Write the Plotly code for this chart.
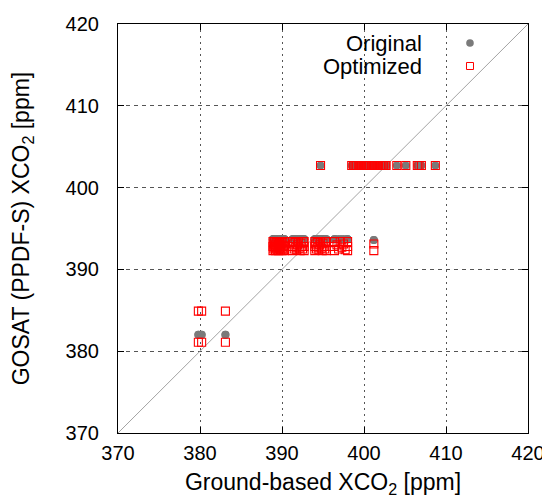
import plotly.graph_objects as go

# ---- data ----
# lower cluster
low_ground = [379.8, 379.8, 380.2, 380.2, 383.1, 383.1]
low_orig = [382.0, 382.0, 382.0, 382.0, 382.0, 382.0]
low_opt = [384.9, 381.1, 384.9, 381.1, 384.9, 381.1]

# middle cluster (four dense groups plus one isolated site)
mid_ground = [388.9, 388.9, 388.9, 389.0, 389.0, 389.1, 389.1, 389.2, 389.2, 389.3,
              389.3, 389.4, 389.4, 389.5, 389.5, 389.6, 389.6, 389.7, 389.7, 389.8,
              389.8, 389.9, 389.9, 390.0, 390.0, 390.1, 390.1, 390.2, 390.2, 390.3,
              390.3, 390.3,
              391.3, 391.3, 391.3, 391.4, 391.5, 391.6, 391.7, 391.8, 391.9, 392.0,
              392.1, 392.2, 392.3, 392.4, 392.5, 392.6, 392.7, 392.7, 392.7,
              394.0, 394.0, 394.0, 394.1, 394.2, 394.3, 394.4, 394.5, 394.6, 394.7,
              394.8, 394.9, 395.0, 395.1, 395.2, 395.3, 395.4, 395.4, 395.4,
              396.4, 396.4, 396.4, 396.7, 396.9, 397.1, 397.3, 397.5, 397.7, 398.0,
              398.0, 398.0,
              401.2, 401.2]
mid_orig = ([393.7] * 32 + [393.7] * 19 + [393.7] * 19 + [393.7] * 12
            + [393.6, 393.6])
mid_opt = [393.4, 392.8, 392.3, 393.1, 392.5, 393.4, 392.7, 393.0, 392.3, 393.3,
           392.6, 392.9, 392.4, 393.4, 392.7, 393.1, 392.3, 393.3, 392.6, 393.0,
           392.4, 393.4, 392.8, 393.1, 392.3, 393.3, 392.6, 392.9, 392.4, 393.4,
           392.8, 392.3,
           393.4, 392.8, 392.3, 393.1, 392.5, 393.3, 392.7, 392.4, 393.0, 393.4,
           392.6, 392.3, 393.2, 392.8, 392.5, 393.4, 393.4, 392.8, 392.3,
           393.4, 392.8, 392.3, 393.1, 392.5, 393.3, 392.7, 392.4, 393.0, 393.4,
           392.6, 392.3, 393.2, 392.8, 392.5, 393.4, 393.4, 392.8, 392.3,
           393.4, 392.8, 392.3, 393.0, 392.5, 393.4, 392.7, 393.1, 392.4, 393.4,
           392.8, 392.3,
           393.1, 392.3]

# upper cluster
up_ground = [394.7, 398.5, 398.7, 398.8, 399.0, 399.1, 399.3, 399.4, 399.6, 399.7,
             399.9, 400.0, 400.2, 400.3, 400.4, 400.6, 400.7, 400.9, 401.0, 401.2,
             401.3, 401.5, 401.7, 401.8, 402.0, 402.1, 402.3, 402.4, 402.6, 402.7,
             404.0, 405.1, 406.5, 406.7, 407.0, 408.7]
up_orig = [402.7] * 36
up_opt = [402.7] * 36

ground = low_ground + mid_ground + up_ground
original = low_orig + mid_orig + up_orig
optimized = low_opt + mid_opt + up_opt

one_to_one = [370, 420]
tick_vals = [370, 380, 390, 400, 410, 420]
series_names = ["Original", "Optimized"]

FONT = "Liberation Sans, Arial, sans-serif"

fig = go.Figure()
fig.add_trace(go.Scatter(x=one_to_one, y=one_to_one, mode="lines",
                         line=dict(color="#8c8c8c", width=0.8),
                         showlegend=False, hoverinfo="skip"))
fig.add_trace(go.Scatter(x=ground, y=original, mode="markers", name=series_names[0],
                         marker=dict(symbol="circle", size=8, color="#7a7a7a",
                                     line=dict(width=0)),
                         showlegend=False))
fig.add_trace(go.Scatter(x=ground, y=optimized, mode="markers", name=series_names[1],
                         marker=dict(symbol="square-open", size=8, color="#ff0000",
                                     line=dict(width=1.1, color="#ff0000")),
                         showlegend=False))

axis_common = dict(range=[370, 420], tickvals=tick_vals, ticks="inside", ticklen=6,
                   tickwidth=1, tickcolor="black", showline=True, linecolor="black",
                   linewidth=1.2, mirror="ticks", zeroline=False, automargin=False,
                   tickfont=dict(family=FONT, size=20, color="black"),
                   showgrid=True, gridcolor="#555555", gridwidth=1)

fig.update_xaxes(**axis_common, griddash="2px,4px", ticklabelstandoff=2,
                 title=dict(text="Ground-based XCO<sub>2</sub> [ppm]",
                            font=dict(family=FONT, size=23, color="black"),
                            standoff=10))
fig.update_yaxes(**axis_common, griddash="4px,4px", ticklabelstandoff=14,
                 title=dict(text="GOSAT (PPDF-S) XCO<sub>2</sub> [ppm]",
                            font=dict(family=FONT, size=23, color="black"),
                            standoff=30))

# legend (text left, key right)
legend_y = [0.9535, 0.8973]
fig.add_annotation(x=0.7463, y=legend_y[0], xref="paper", yref="paper",
                   text=series_names[0], showarrow=False, xanchor="right",
                   yanchor="middle", font=dict(family=FONT, size=22, color="black"))
fig.add_annotation(x=0.7463, y=legend_y[1], xref="paper", yref="paper",
                   text=series_names[1], showarrow=False, xanchor="right",
                   yanchor="middle", font=dict(family=FONT, size=22, color="black"))
fig.add_shape(type="circle", xref="paper", yref="paper", xsizemode="pixel",
              ysizemode="pixel", xanchor=0.8585, yanchor=legend_y[0],
              x0=-3.8, x1=3.8, y0=-3.8, y1=3.8, fillcolor="#7a7a7a",
              line=dict(width=0))
fig.add_shape(type="rect", xref="paper", yref="paper", xsizemode="pixel",
              ysizemode="pixel", xanchor=0.8585, yanchor=legend_y[1],
              x0=-3.5, x1=3.5, y0=-3.5, y1=3.5, fillcolor="rgba(0,0,0,0)",
              line=dict(width=1, color="#ff0000"))

# the page body adds an 8px offset, so the figure is 8px smaller on each leading side
fig.update_layout(width=542, height=493, margin=dict(l=110, r=22, t=16, b=68),
                  paper_bgcolor="white", plot_bgcolor="white", showlegend=False,
                  font=dict(family=FONT, size=20, color="black"))

fig.write_html("out.html")
